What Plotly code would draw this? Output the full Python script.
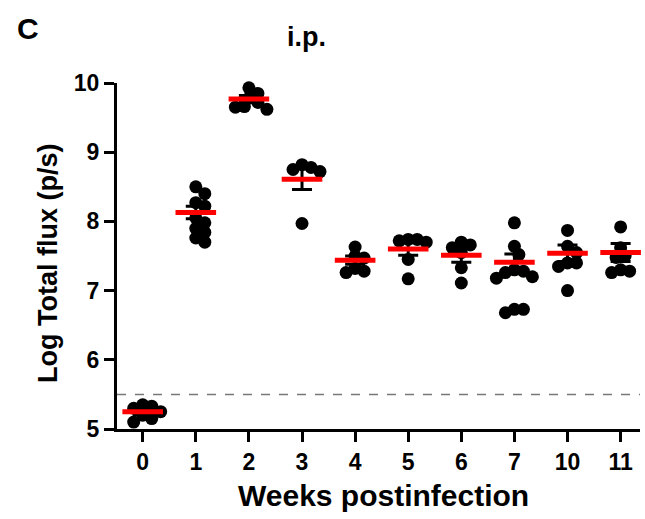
import plotly.graph_objects as go
import numpy as np

weeks = ['0', '1', '2', '3', '4', '5', '6', '7', '10', '11']
w0 = [5.35, 5.33, 5.30, 5.25, 5.20, 5.15, 5.10]
w1 = [8.50, 8.40, 8.27, 8.22, 8.05, 7.98, 7.90, 7.84, 7.76, 7.70]
w2 = [9.93, 9.85, 9.78, 9.72, 9.66, 9.62, 9.65]
w3 = [8.82, 8.78, 8.75, 8.72, 7.97]
w4 = [7.63, 7.50, 7.47, 7.32, 7.28, 7.26]
w5 = [7.74, 7.74, 7.72, 7.70, 7.45, 7.17]
w6 = [7.70, 7.66, 7.62, 7.55, 7.33, 7.11]
w7 = [7.98, 7.64, 7.52, 7.30, 7.28, 7.26, 7.20, 7.18, 6.73, 6.68, 6.73]
w10 = [7.87, 7.64, 7.55, 7.40, 7.35, 7.40, 7.00]
w11 = [7.92, 7.62, 7.50, 7.48, 7.30, 7.28, 7.26]
groups = [w0, w1, w2, w3, w4, w5, w6, w7, w10, w11]
means = [5.25, 8.13, 9.77, 8.61, 7.44, 7.60, 7.51, 7.41, 7.54, 7.55]
sems = [0.04, 0.09, 0.05, 0.15, 0.06, 0.09, 0.10, 0.12, 0.12, 0.13]
threshold = 5.5

W, H = 645, 519
ML, MR, MT, MB = 117, 5, 83, 90
XR = [-0.484, 9.365]
YR = [5, 10]
pxx = (W - ML - MR) / (XR[1] - XR[0])
pxy = (H - MT - MB) / (YR[1] - YR[0])

def swarm(vals, mind=8.5, step=4.5):
    order = sorted(range(len(vals)), key=lambda i: -vals[i])
    placed = []
    offs = [0.0] * len(vals)
    for i in order:
        y = vals[i] * pxy
        k = 0
        while True:
            cands = [0.0] if k == 0 else [k * step, -k * step]
            ok = None
            for c in cands:
                if all((c - px) ** 2 + (y - py) ** 2 >= mind ** 2 for px, py in placed):
                    ok = c
                    break
            if ok is not None:
                offs[i] = ok
                placed.append((ok, y))
                break
            k += 1
    return [o / pxx for o in offs]

xs, ys = [], []
for gi, g in enumerate(groups):
    offs = swarm(g)
    xs += [gi + o for o in offs]
    ys += g

fig = go.Figure()
fig.add_trace(go.Scatter(x=xs, y=ys, mode='markers',
                         marker=dict(color='black', size=13, line=dict(width=0)),
                         cliponaxis=False, showlegend=False))
fig.add_trace(go.Scatter(x=list(range(len(weeks))), y=means, mode='markers',
                         marker=dict(size=1, color='rgba(0,0,0,0)'),
                         error_y=dict(type='data', array=sems, color='black', thickness=3, width=10),
                         cliponaxis=False, showlegend=False))
fig.add_trace(go.Scatter(x=list(range(len(weeks))), y=means, mode='markers',
                         marker=dict(symbol='line-ew', size=29, line=dict(color='#ff0000', width=5)),
                         cliponaxis=False, showlegend=False))

fig.add_shape(type='line', xref='paper', yref='y', x0=0, x1=1, y0=threshold, y1=threshold,
              line=dict(color='#777777', width=1.5, dash='dash'))

font = dict(family='Liberation Sans, Arial', color='black', weight='bold')
ph = H - MT - MB
pw = W - ML - MR
fig.update_layout(
    width=W, height=H, margin=dict(l=ML, r=MR, t=MT, b=MB, autoexpand=False),
    plot_bgcolor='white', paper_bgcolor='white',
    xaxis=dict(range=XR, tickvals=list(range(len(weeks))), ticktext=weeks, automargin=False,
               showline=True, linewidth=3, linecolor='black', ticks='outside',
               ticklen=10, tickwidth=3, tickcolor='black', showgrid=False, zeroline=False,
               tickfont=dict(size=23, **font)),
    yaxis=dict(range=YR, tickvals=[5, 6, 7, 8, 9, 10], automargin=False,
               showline=True, linewidth=3, linecolor='black', ticks='outside',
               ticklen=10, tickwidth=3, tickcolor='black', showgrid=False, zeroline=False,
               tickfont=dict(size=23, **font)),
    annotations=[
        dict(text='i.p.', x=(306 - ML) / pw, xref='paper', y=1 + (MT - 37) / ph, yref='paper',
             showarrow=False, font=dict(size=27, **font), xanchor='center', yanchor='middle'),
        dict(text='C', x=(28 - ML) / pw, xref='paper', y=1 + (MT - 28) / ph, yref='paper',
             showarrow=False, font=dict(size=30, **font), xanchor='center', yanchor='middle'),
        dict(text='Weeks postinfection', x=(383 - ML) / pw, xref='paper', y=-(495 - MT - ph) / ph,
             yref='paper', showarrow=False, font=dict(size=30, **font),
             xanchor='center', yanchor='middle'),
        dict(text='Log Total flux (p/s)', x=(48 - ML) / pw, xref='paper', y=1 - (264 - MT) / ph,
             yref='paper', showarrow=False, font=dict(size=27, **font), textangle=-90,
             xanchor='center', yanchor='middle'),
    ],
)

fig.write_html('out.html', config={'displayModeBar': False},
               post_script="document.body.style.margin='0';document.body.style.overflow='hidden';")
